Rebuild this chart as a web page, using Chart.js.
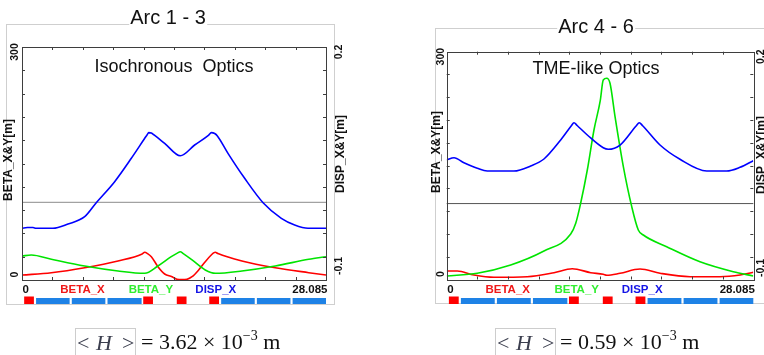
<!DOCTYPE html>
<html><head><meta charset="utf-8">
<script src="https://cdn.jsdelivr.net/npm/chart.js@4.4.0/dist/chart.umd.min.js"></script>
<style>
html,body{margin:0;padding:0;background:#fff;}
body{width:764px;height:355px;position:relative;overflow:hidden;font-family:"Liberation Sans",Arial,sans-serif;}
.wrap{position:absolute;top:0;width:382px;height:355px;}
#w1{left:0;} #w2{left:382px;}
.title{position:absolute;font-size:20px;line-height:20px;background:#fff;color:#111;white-space:pre;transform:translateX(-50%);padding:0 1px;}
.sub{position:absolute;font-size:18px;line-height:18px;color:#111;white-space:pre;transform:translateX(-50%);}
.hbox{position:absolute;top:328px;width:61px;height:40px;border:1px solid #cdcdcd;box-sizing:border-box;}
.hbox span{position:absolute;top:3px;font-family:"Liberation Serif","Times New Roman",serif;font-size:22px;line-height:22px;color:#3b3e4e;}
.formula{position:absolute;top:331px;font-family:"Liberation Serif","Times New Roman",serif;font-size:22px;line-height:22px;color:#111;white-space:pre;}
.formula .sup{position:relative;top:-9px;font-size:14px;}
</style>
</head><body>
<div class="wrap" id="w1"><canvas id="c1"></canvas></div>
<div class="wrap" id="w2"><canvas id="c2"></canvas></div>

<div class="title" style="left:168px;top:7px;">Arc 1 - 3</div>
<div class="title" style="left:596px;top:16px;">Arc 4 - 6</div>
<div class="sub" style="left:174px;top:57px;">Isochronous  Optics</div>
<div class="sub" style="left:596px;top:59px;">TME-like Optics</div>

<div class="hbox" style="left:75px;"><span style="left:1px;">&lt;</span><span style="left:20px;font-style:italic;">H</span><span style="left:46px;">&gt;</span></div>
<div class="formula" style="left:141px;">= 3.62 × 10<span class="sup">−3</span> m</div>
<div class="hbox" style="left:495px;"><span style="left:1px;">&lt;</span><span style="left:20px;font-style:italic;">H</span><span style="left:46px;">&gt;</span></div>
<div class="formula" style="left:560px;">= 0.59 × 10<span class="sup">−3</span> m</div>

<script>
// ---------------- data ----------------
const S_MAX = 28.085;
const legendNames = ['BETA_X', 'BETA_Y', 'DISP_X'];
const xEndLabels = ['0', '28.085'];
const betaAxisLabels = ['0', '300'];
const dispAxisLabels = ['-0.1', '0.2'];
const betaRange = [0, 300];
const dispRange = [-0.1, 0.2];

// Arc 1 - 3 (isochronous optics)
const arc13BetaXS = [0, 2.71, 5.79, 8.87, 11.1, 11.34, 11.6, 11.95, 12.56, 13.18, 13.86, 14.11, 14.32, 14.78, 15.24, 15.71, 16.32, 16.93, 17.55, 17.7, 17.86, 18.1, 20.32, 23.40, 26.49, 28.085];
const arc13BetaX  = [6.4, 9.4, 15.8, 24.5, 33.6, 35.7, 34.0, 30.0, 17.1, 7.7, 4.2, 2.2, 0.9, 0.5, 0.9, 4.2, 12.9, 23.6, 33.1, 34.9, 35.7, 34.0, 24.5, 15.8, 9.4, 6.4];
const arc13BetaYS = [0, 0.86, 2.71, 5.79, 8.87, 11.34, 12.56, 13.79, 14.35, 14.62, 14.9, 15.71, 16.93, 17.86, 20.32, 23.40, 26.49, 28.085];
const arc13BetaY  = [30.9, 32.2, 26.7, 18.0, 11.6, 8.6, 18.0, 30.0, 34.6, 36.4, 34.0, 25.8, 12.9, 8.6, 11.6, 18.0, 26.7, 30.0];
const arc13DispS  = [0, 0.5, 1.02, 1.3, 2.86, 4.25, 5.79, 6.86, 8.56, 10.10, 11.34, 11.55, 11.71, 11.95, 12.2, 13.18, 14.62, 15.95, 17.25, 17.49, 17.80, 18.05, 19.03, 20.57, 22.27, 23.96, 25.19, 26.42, 28.085];
const arc13Disp   = [-0.0334, -0.0324, -0.0324, -0.0334, -0.0334, -0.0279, -0.0185, -0.0005, 0.0266, 0.0567, 0.0825, 0.0868, 0.0897, 0.0893, 0.0868, 0.0760, 0.0600, 0.0738, 0.0866, 0.0897, 0.0886, 0.0855, 0.0631, 0.0309, -0.0005, -0.0206, -0.0292, -0.0334, -0.0334];

// Arc 4 - 6 (TME-like optics)
const arc46BetaXS = [0, 0.97, 2.50, 4.33, 7.38, 9.83, 11.50, 13.19, 14.34, 14.66, 15.88, 17.71, 19.54, 22.29, 25.03, 26.87, 28.085];
const arc46BetaX  = [11.2, 11.2, 5.9, 2.9, 3.7, 9.0, 14.2, 9.0, 6.8, 5.5, 8.2, 13.8, 8.2, 3.7, 3.7, 5.9, 9.5];
const arc46BetaYS = [0, 2.80, 5.86, 8.91, 11.36, 11.82, 12.27, 12.88, 13.49, 14.07, 14.34, 14.66, 14.96, 15.42, 16.18, 16.95, 17.55, 18.01, 20.15, 23.20, 26.25, 28.085];
const arc46BetaY  = [4.6, 8.2, 19.1, 37.5, 59.9, 74.0, 100.4, 144.2, 196.9, 236.0, 262.7, 265.0, 258.4, 214.4, 148.6, 95.9, 65.2, 58.6, 43.2, 23.4, 10.3, 4.6];
const arc46DispS  = [0, 0.67, 1.58, 2.80, 3.72, 6.16, 7.69, 8.91, 10.44, 11.4, 11.66, 11.95, 12.88, 14.34, 14.80, 15.88, 17.35, 17.64, 17.95, 19.54, 21.37, 23.82, 25.65, 26.87, 28.085];
const arc46Disp   = [0.0574, 0.0604, 0.0538, 0.0465, 0.0429, 0.0429, 0.0495, 0.0587, 0.0837, 0.1020, 0.1065, 0.1028, 0.0903, 0.0735, 0.0715, 0.0771, 0.1022, 0.1065, 0.1025, 0.0771, 0.0583, 0.0429, 0.0429, 0.0478, 0.0565];

// lattice elements (s ranges, m)
const dipoleRanges = [[0.2, 1.1], [11.2, 12.1], [14.3, 15.2], [17.3, 18.2]];
const quadRanges   = [[1.3, 4.4], [4.6, 7.7], [7.9, 11.05], [18.4, 21.5], [21.7, 24.8], [25.0, 28.085]];

// ---------------- drawing ----------------
const COL = {betaX:'#ff0000', betaY:'#00e400', disp:'#0000ff',
             lblX:'#f01818', lblY:'#30ee30', lblD:'#1414e6',
             dip:'#ff0000', quad:'#1e82e6', border:'#3e3e3e', frame:'#cfcfcf'};

function pts(s, v){ return s.map((x,i)=>({x:x, y:v[i]})); }

function vtext(ctx, txt, x, y){
  ctx.save(); ctx.translate(x,y); ctx.rotate(-Math.PI/2);
  ctx.textAlign='center'; ctx.textBaseline='middle'; ctx.fillText(txt,0,0); ctx.restore();
}

const decoPlugin = {
  id:'deco',
  beforeDatasetsDraw(chart, args, o){
    const ctx=chart.ctx, a=chart.chartArea, y1=chart.scales.y1;
    ctx.save();
    ctx.strokeStyle=COL.frame; ctx.lineWidth=1;
    const f=o.frame;
    ctx.strokeRect(f[0]+0.5, f[1]+0.5, f[2]-f[0], f[3]-f[1]);
    const z=y1.getPixelForValue(0);
    ctx.strokeStyle=o.zeroColor; ctx.lineWidth=o.zeroWidth;
    ctx.beginPath(); ctx.moveTo(a.left,z); ctx.lineTo(a.right,z); ctx.stroke();
    ctx.restore();
  },
  afterDatasetsDraw(chart, args, o){
    const ctx=chart.ctx, a=chart.chartArea, xs=chart.scales.x, ys=chart.scales.y, y1=chart.scales.y1;
    ctx.save();
    ctx.strokeStyle=COL.border; ctx.lineWidth=1;
    ctx.strokeRect(Math.round(a.left)+0.5, Math.round(a.top)+0.5, Math.round(a.right-a.left), Math.round(a.bottom-a.top));
    ctx.beginPath();
    const tl=3;
    for(let k=1;k<10;k++){
      const px=Math.round(xs.getPixelForValue(S_MAX*k/10))+0.5;
      ctx.moveTo(px,a.top); ctx.lineTo(px,a.top+tl);
      ctx.moveTo(px,a.bottom); ctx.lineTo(px,a.bottom-tl);
      const py=Math.round(ys.getPixelForValue(betaRange[0]+(betaRange[1]-betaRange[0])*k/10))+0.5;
      ctx.moveTo(a.left,py); ctx.lineTo(a.left+tl,py);
      const py2=Math.round(y1.getPixelForValue(dispRange[0]+(dispRange[1]-dispRange[0])*k/10))+0.5;
      ctx.moveTo(a.right,py2); ctx.lineTo(a.right-tl,py2);
    }
    ctx.stroke();
    ctx.fillStyle='#111';
    ctx.font='bold 10.5px "Liberation Sans", Arial, sans-serif';
    vtext(ctx, betaAxisLabels[1], a.left+o.lNumDx, ys.getPixelForValue(betaRange[1])+o.topNumDy);
    vtext(ctx, betaAxisLabels[0], a.left+o.lNumDx, ys.getPixelForValue(betaRange[0])+o.botNumDy);
    vtext(ctx, dispAxisLabels[1], a.right+o.rNumDx, y1.getPixelForValue(dispRange[1])+o.topNumDy);
    vtext(ctx, dispAxisLabels[0], a.right+o.rNumDx, y1.getPixelForValue(dispRange[0])+o.rBotNumDy);
    ctx.font='bold 12px "Liberation Sans", Arial, sans-serif';
    vtext(ctx, 'BETA_X&Y[m]', a.left+o.lTitleDx, o.lTitleY);
    vtext(ctx, 'DISP_X&Y[m]', a.right+o.rTitleDx, o.rTitleY);
    ctx.font='bold 11.5px "Liberation Sans", Arial, sans-serif';
    ctx.textBaseline='middle';
    const by=a.bottom+o.legendDy, w=a.right-a.left;
    ctx.textAlign='left'; ctx.fillStyle='#111';
    ctx.fillText(xEndLabels[0], xs.getPixelForValue(0)+0.5, by);
    ctx.textAlign='right';
    ctx.fillText(xEndLabels[1], xs.getPixelForValue(S_MAX)+1.5, by);
    ctx.textAlign='center';
    const lc=[COL.lblX, COL.lblY, COL.lblD], lf=[0.199,0.424,0.6375];
    legendNames.forEach((n,i)=>{ ctx.fillStyle=lc[i]; ctx.fillText(n, a.left+w*lf[i], by); });
    const eb=o.elemBottom;
    ctx.fillStyle=COL.quad;
    quadRanges.forEach(r=>{ const x0=xs.getPixelForValue(r[0]), x1=xs.getPixelForValue(r[1]); ctx.fillRect(x0, eb-6, x1-x0, 6); });
    ctx.fillStyle=COL.dip;
    dipoleRanges.forEach(r=>{ const x0=xs.getPixelForValue(r[0]), x1=xs.getPixelForValue(r[1]); ctx.fillRect(x0, eb-7.5, x1-x0, 7.5); });
    ctx.restore();
  }
};

function makeChart(id, bx, by, dispData, padding, deco){
  return new Chart(document.getElementById(id), {
    type:'line',
    data:{datasets:[
      {label:'DISP_X', data:dispData, yAxisID:'y1', borderColor:COL.disp},
      {label:'BETA_Y', data:by, yAxisID:'y', borderColor:COL.betaY},
      {label:'BETA_X', data:bx, yAxisID:'y', borderColor:COL.betaX}
    ]},
    options:{
      responsive:true, maintainAspectRatio:false, animation:false,
      layout:{padding:padding},
      elements:{line:{borderWidth:1.6, cubicInterpolationMode:'monotone', fill:false}, point:{radius:0}},
      scales:{
        x:{type:'linear', min:0, max:S_MAX, display:false},
        y:{type:'linear', min:betaRange[0], max:betaRange[1], display:false},
        y1:{type:'linear', min:dispRange[0], max:dispRange[1], display:false, position:'right'}
      },
      plugins:{legend:{display:false}, tooltip:{enabled:false}, title:{display:false}, deco:deco}
    },
    plugins:[decoPlugin]
  });
}

makeChart('c1', pts(arc13BetaXS, arc13BetaX), pts(arc13BetaYS, arc13BetaY), pts(arc13DispS, arc13Disp),
  {left:22, top:47, right:56, bottom:75},
  {frame:[6,24,334,304], zeroColor:'#a2a2a2', zeroWidth:1.4,
   lNumDx:-6.5, rNumDx:13, topNumDy:5, botNumDy:-5.3, rBotNumDy:-14,
   lTitleDx:-13, lTitleY:160, rTitleDx:15, rTitleY:154,
   legendDy:9.5, elemBottom:304});

makeChart('c2', pts(arc46BetaXS, arc46BetaX), pts(arc46BetaYS, arc46BetaY), pts(arc46DispS, arc46Disp),
  {left:64.7, top:51.7, right:10.7, bottom:75.5},
  {frame:[53,28,400,303], zeroColor:'#555555', zeroWidth:1,
   lNumDx:-6, rNumDx:8, topNumDy:5, botNumDy:-5.5, rBotNumDy:-11.5,
   lTitleDx:-9.7, lTitleY:152, rTitleDx:8, rTitleY:155,
   legendDy:10.5, elemBottom:304});
</script>
</body></html>
